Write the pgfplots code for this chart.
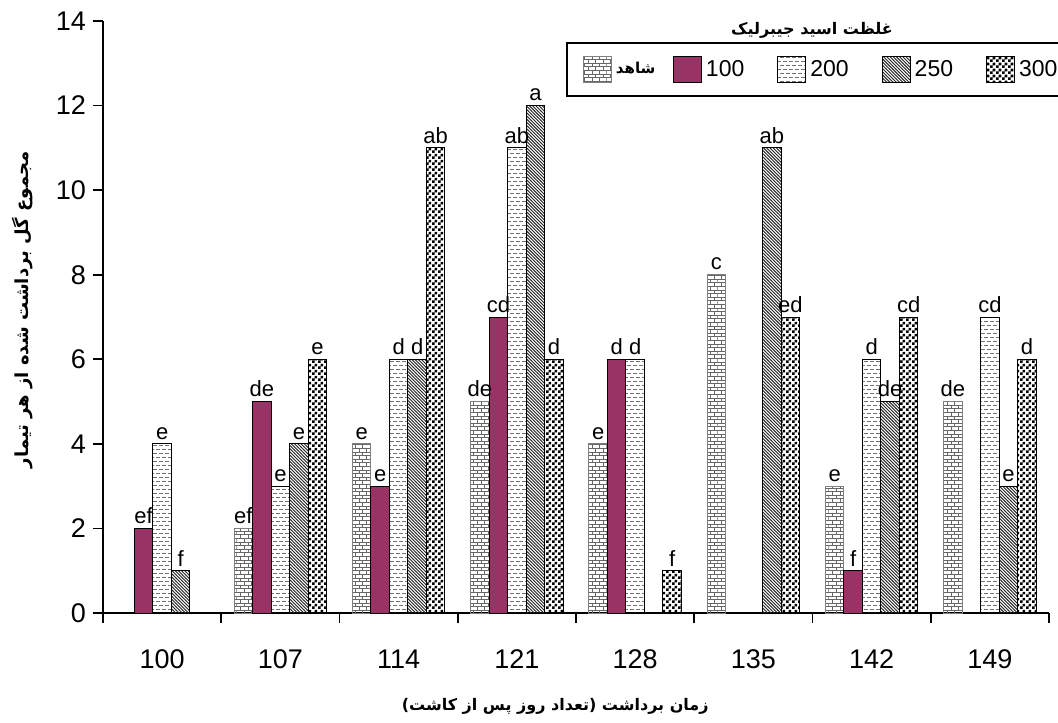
\documentclass[border=0pt]{standalone}
\usepackage{fontspec}
\setmainfont{Liberation Sans}
\newfontfamily\arabicfont[Script=Arabic]{DejaVu Sans}
\TeXXeTstate=1
\usepackage{pgfplots}
\pgfplotsset{compat=1.18}
\usetikzlibrary{patterns}

\definecolor{plum}{HTML}{993366}

% bar fills
\pgfdeclarepatternformonly{mybricks}{\pgfqpoint{-0.2pt}{-0.2pt}}{\pgfqpoint{3.9pt}{3.8pt}}{\pgfqpoint{3.7pt}{3.6pt}}{
  \pgfsetlinewidth{0.4pt}
  \pgfpathmoveto{\pgfqpoint{0pt}{0pt}}\pgfpathlineto{\pgfqpoint{3.7pt}{0pt}}
  \pgfpathmoveto{\pgfqpoint{0pt}{1.8pt}}\pgfpathlineto{\pgfqpoint{3.7pt}{1.8pt}}
  \pgfpathmoveto{\pgfqpoint{0pt}{0pt}}\pgfpathlineto{\pgfqpoint{0pt}{1.8pt}}
  \pgfpathmoveto{\pgfqpoint{1.85pt}{1.8pt}}\pgfpathlineto{\pgfqpoint{1.85pt}{3.6pt}}
  \pgfusepath{stroke}}
\pgfdeclarepatternformonly{mydash}{\pgfqpoint{-0.2pt}{-0.2pt}}{\pgfqpoint{3.2pt}{4.2pt}}{\pgfqpoint{3pt}{4pt}}{
  \pgfsetlinewidth{0.45pt}
  \pgfpathmoveto{\pgfqpoint{0pt}{0.5pt}}\pgfpathlineto{\pgfqpoint{2pt}{0.5pt}}
  \pgfpathmoveto{\pgfqpoint{1.5pt}{2.5pt}}\pgfpathlineto{\pgfqpoint{3pt}{2.5pt}}
  \pgfpathmoveto{\pgfqpoint{0pt}{2.5pt}}\pgfpathlineto{\pgfqpoint{0.5pt}{2.5pt}}
  \pgfusepath{stroke}}
\pgfdeclarepatternformonly{mynw}{\pgfqpoint{-0.5pt}{-0.5pt}}{\pgfqpoint{2.1pt}{2.1pt}}{\pgfqpoint{1.6pt}{1.6pt}}{
  \pgfsetlinewidth{0.45pt}
  \pgfpathmoveto{\pgfqpoint{-0.1pt}{1.7pt}}\pgfpathlineto{\pgfqpoint{1.7pt}{-0.1pt}}
  \pgfusepath{stroke}}
\pgfdeclarepatternformonly{mychecker}{\pgfpointorigin}{\pgfqpoint{3pt}{3pt}}{\pgfqpoint{3pt}{3pt}}{
  \pgfpathrectangle{\pgfpointorigin}{\pgfqpoint{1.5pt}{1.5pt}}
  \pgfpathrectangle{\pgfqpoint{1.5pt}{1.5pt}}{\pgfqpoint{1.5pt}{1.5pt}}
  \pgfusepath{fill}}

\begin{document}
\begin{tikzpicture}
\useasboundingbox (-51.5pt,-54.5pt) rectangle (477.5pt,306.5pt);
\begin{axis}[
  at={(0pt,0pt)}, anchor=south west,
  scale only axis, width=473pt, height=296pt,
  ybar=0pt, bar width=9.25pt,
  xmin=-0.5, xmax=7.5, ymin=0, ymax=14,
  clip=false,
  axis x line=bottom, axis y line=left,
  axis line style={-, line width=1pt},
  xtick={0,...,7},
  xticklabels={100,107,114,121,128,135,142,149},
  minor xtick={-0.5,0.5,...,7.5},
  ytick={0,2,...,14},
  tick align=outside,
  major tick length=5pt, minor tick length=5pt,
  tick style={line width=0.8pt, black},
  major x tick style={draw=none},
  /pgf/number format/assume math mode=true,
  ticklabel style={font=\fontsize{13.5}{15}\selectfont},
  xticklabel style={yshift=-10pt},
  point meta=explicit symbolic,
  nodes near coords={\pgfplotspointmeta},
  every node near coord/.append style={font=\fontsize{11}{12}\selectfont, inner sep=2pt, black},
  xlabel={\arabicfont\bfseries\beginR زمان برداشت \hbox{(}تعداد روز پس از کاشت\hbox{)}\endR},
  xlabel style={at={(axis description cs:0.478,0)}, anchor=center, yshift=-46.5pt, font=\fontsize{8}{10}\selectfont},
  ylabel={\arabicfont\bfseries\beginR مجموع گل برداشت شده از هر تیمار\endR},
  ylabel style={at={(axis description cs:-0.0856,0.512)}, anchor=center, rotate=0, font=\fontsize{9}{10}\selectfont},
  legend columns=5,
  legend cell align=left,
  legend image code/.code={\draw[#1, line width=0.5pt] (0pt,-6.5pt) rectangle (14pt,6.5pt);},
  legend style={at={(rel axis cs:0.4894,0.9645)}, anchor=north west,
    draw=black, line width=1pt, inner xsep=8pt, inner ysep=6.5pt,
    font=\fontsize{11.5}{13}\selectfont,
    /tikz/every even column/.append style={column sep=14.5pt}},
]
\addplot[draw=gray, line width=0.5pt, pattern=mybricks, pattern color=black!60] coordinates {
  (1,2) [ef] (2,4) [e] (3,5) [de] (4,4) [e] (5,8) [c] (6,3) [e] (7,5) [de]};
\addlegendentry{\makebox[12pt][l]{\arabicfont\bfseries\fontsize{7.5}{9}\selectfont\beginR شاهد\endR}}
\addplot[draw=black, line width=0.5pt, fill=plum] coordinates {
  (0,2) [ef] (1,5) [de] (2,3) [e] (3,7) [cd] (4,6) [d] (6,1) [f]};
\addlegendentry{100}
\addplot[draw=black, line width=0.5pt, pattern=mydash, pattern color=black!55] coordinates {
  (0,4) [e] (1,3) [e] (2,6) [d] (3,11) [ab] (4,6) [d] (6,6) [d] (7,7) [cd]};
\addlegendentry{200}
\addplot[draw=black, line width=0.5pt, pattern=mynw, pattern color=black!85] coordinates {
  (0,1) [f] (1,4) [e] (2,6) [d] (3,12) [a] (5,11) [ab] (6,5) [de] (7,3) [e]};
\addlegendentry{250}
\addplot[draw=black, line width=0.5pt, pattern=mychecker, pattern color=black] coordinates {
  (1,6) [e] (2,11) [ab] (3,6) [d] (4,1) [f] (5,7) [ed] (6,7) [cd] (7,6) [d]};
\addlegendentry{300}
\node[font=\arabicfont\bfseries\fontsize{8}{10}\selectfont, anchor=center]
  at (rel axis cs:0.7495,0.985) {\beginR غلظت اسید جیبرلیک\endR};
\end{axis}
\end{tikzpicture}
\end{document}
